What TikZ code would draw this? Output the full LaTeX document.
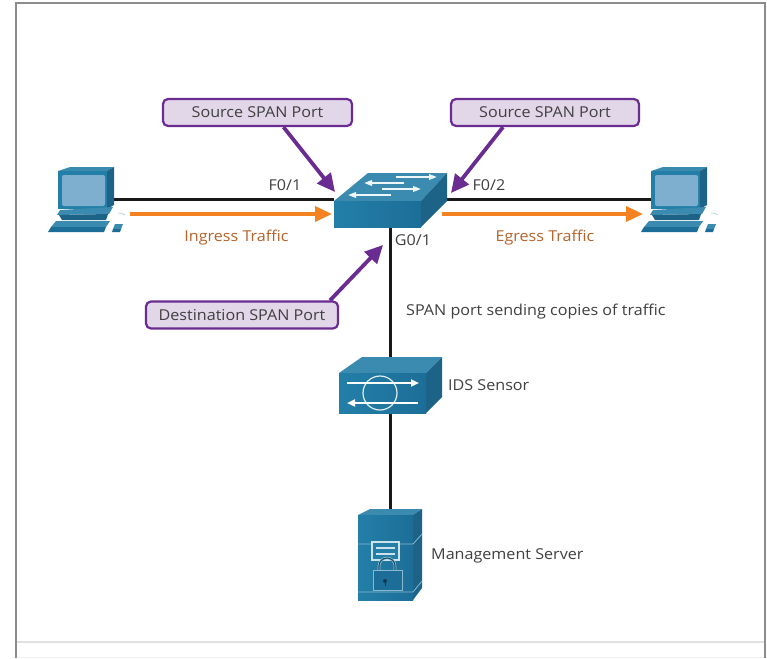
\documentclass[tikz,border=0pt]{standalone}
\usepackage{fontspec}
\setmainfont[FakeStretch=1.075]{Open Sans}
\usetikzlibrary{arrows.meta}
\definecolor{devFront}{HTML}{237FA8}
\definecolor{devFrontB}{HTML}{1C6E98}
\definecolor{devTop}{HTML}{3A8BAF}
\definecolor{devSide}{HTML}{1D6388}
\definecolor{devScreen}{HTML}{7FAFCE}
\definecolor{txt}{HTML}{404040}
\definecolor{brown}{HTML}{B5622B}
\definecolor{orangeA}{HTML}{F58220}
\definecolor{purpleA}{HTML}{6A2C91}
\definecolor{purpleF}{HTML}{E2D6E9}
\tikzset{
  x=1pt,y=-1pt,
  label/.style={font=\fontsize{15}{17}\selectfont,text=txt,inner sep=0pt},
  traffic/.style={label,text=brown},
  spanbox/.style={draw=purpleA,line width=2.2pt,fill=purpleF,rounded corners=5pt,inner sep=0pt,minimum height=27pt,font=\fontsize{15}{17}\selectfont,text=txt},
  device/.style={inner sep=0pt,outer sep=0pt,minimum width=#1},
  link/.style={line width=3pt,black!90},
  flow/.style={line width=3.5pt,orangeA,-{Triangle[length=17pt,width=15pt]}},
  pointer/.style={line width=3.8pt,purpleA,-{Triangle[length=18pt,width=17pt]}},
  front/.style={fill=devFront},
  top/.style={fill=devTop},
  side/.style={fill=devSide},
  pics/pc/.style={code={
    \fill[top] (58,171)--(70,167)--(114,167)--(107,171)--cycle;
    \fill[side] (107,171)--(114,167)--(114,205)--(107,209)--cycle;
    \fill[front] (58,171) rectangle (107,209);
    \fill[devScreen,rounded corners=2pt] (62,175) rectangle (105,206);
    \fill[devTop] (60,210)--(113,207)--(109,214)--(57,215)--cycle;
    \fill[devSide] (59,215)--(108,214)--(106,220)--(62,220)--cycle;
    \fill[top] (56,221)--(110,221)--(106,227)--(51,227)--cycle;
    \fill[devFrontB] (51,227)--(106,227)--(104,232)--(48,232)--cycle;
    \fill[top] (115,224)--(123,224)--(121,229)--(113,229)--cycle;
    \fill[devFrontB] (113,229)--(121,229)--(120,232)--(112,232)--cycle;
    \draw[devTop!40,line width=.7pt] (118,213) to[bend left=20] (125,215);
  }}
}
\begin{document}
\begin{tikzpicture}
\useasboundingbox (0,0) rectangle (767,658);
\fill[white] (0,0) rectangle (767,658);
% frame
\draw[black!45,line width=1.4pt] (16,658)--(16,3)--(765,3)--(765,658);
\draw[black!12,line width=1.2pt] (17,642)--(764,642);
\draw[black!5,line width=.8pt] (17,657)--(764,657);
% device nodes
\node[device=66pt,minimum height=64pt] (pcL) at (81,199) {};
\node[device=66pt,minimum height=64pt] (pcR) at (684,199) {};
\node[device=113pt,minimum height=56pt] (sw) at (390.5,199) {};
\node[device=103pt,minimum height=56pt] (ids) at (390.5,385) {};
\node[device=64pt,minimum height=91pt] (srv) at (390.5,554.5) {};
% links
\draw[link] (pcL.east)--(sw.west);
\draw[link] (sw.east)--(pcR.west);
\draw[link] (sw.south)--(ids.north);
\draw[link] (ids.south)--(srv.north);
% PCs
\pic at (0,0) {pc};
\pic at (593,0) {pc};
% switch
\fill[top] (334,201)--(368,173)--(447,173)--(421,201)--cycle;
\fill[side] (421,201)--(447,173)--(447,201)--(421,227)--cycle;
\fill[left color=devFront,right color=devFrontB] (334,201) rectangle (421,227);
\begin{scope}[white!92!devTop,line width=1.8pt,-{Triangle[length=8pt,width=5.5pt]}]
\draw (396,177)--(437,177);
\draw (404,183)--(364,183);
\draw (382,189)--(421,189);
\draw (391,195)--(348,195);
\end{scope}
% IDS sensor
\fill[top] (339,373)--(362,357)--(442,357)--(426,373)--cycle;
\fill[side] (426,373)--(442,357)--(442,397)--(426,413)--cycle;
\fill[left color=devFront,right color=devFrontB] (339,373) rectangle (426,413);
\draw[white!85!devTop,line width=1.2pt] (380,393) circle (17);
\begin{scope}[white,line width=2pt,-{Triangle[length=8pt,width=7pt]}]
\draw (347,383)--(419,383);
\draw (418,403)--(347,403);
\end{scope}
% server
\fill[top] (358,515)--(370,509)--(422,509)--(413,515)--cycle;
\fill[side] (413,515)--(422,509)--(422,588)--(413,600)--cycle;
\fill[left color=devFront,right color=devFrontB] (358,515) rectangle (413,600);
\draw[devTop!60,line width=.8pt] (358,544)--(372,544) (399,544)--(413,544)--(422,534);
\draw[devTop!60,line width=.8pt] (358,592)--(413,592)--(422,581);
\draw[white!75!devTop,line width=1.1pt,fill=devFront] (372,542) rectangle (399,560);
\draw[white!75!devTop,line width=1.1pt] (376,548)--(395,548) (376,554)--(395,554);
\draw[devTop!55!white,line width=2.6pt] (379,571)--(379,566) arc (-180:0:8)--(395,571);
\draw[devFrontB!70!black,line width=1.1pt] (379,571)--(379,566) arc (-180:0:8)--(395,571);
\draw[devTop!60!white,line width=.9pt,fill=devFrontB] (373,570) rectangle (402,590);
\fill[devSide!60!black] (385,581) circle (2);
\draw[devSide!60!black,line width=1pt] (385,581)--(385,586);
% traffic arrows
\coordinate (inEnd) at (332,214);
\coordinate (inStart) at (130,214);
\coordinate (egStart) at (442,214);
\coordinate (egEnd) at (643,214);
\draw[flow] (inStart)--(inEnd);
\draw[flow] (egStart)--(egEnd);
% labels
\node[label] (f01) at (285,185.5) {F0/1};
\node[label] (f02) at (489,185.5) {F0/2};
\node[label] (g01) at (413,240) {G0/1};
\node[traffic] (ing) at (236.5,237.5) {Ingress Traffic};
\node[traffic] (egr) at (545,237.5) {Egress Traffic};
\node[label,anchor=west] (cop) at (406,312) {SPAN port sending copies of traffic};
\node[label,anchor=west] (idsL) at (448,385) {IDS Sensor};
\node[label,anchor=west] (srvL) at (431,556) {Management Server};
% span boxes
\node[spanbox,minimum width=189pt] (b1) at (257.5,112.5) {\raisebox{-1pt}{Source SPAN Port}};
\node[spanbox,minimum width=188pt] (b2) at (545,112.5) {\raisebox{-1pt}{Source SPAN Port}};
\node[spanbox,minimum width=192pt] (b3) at (242,315) {\raisebox{-1pt}{Destination SPAN Port}};
\coordinate (pa) at (335,192);
\coordinate (pb) at (451,193);
\coordinate (pc) at (383,245);
\draw[pointer] ([xshift=26pt]b1.south)--(pa);
\draw[pointer] ([xshift=-42pt]b2.south)--(pb);
\draw[pointer] ([xshift=88pt]b3.north)--(pc);
\end{tikzpicture}
\end{document}
